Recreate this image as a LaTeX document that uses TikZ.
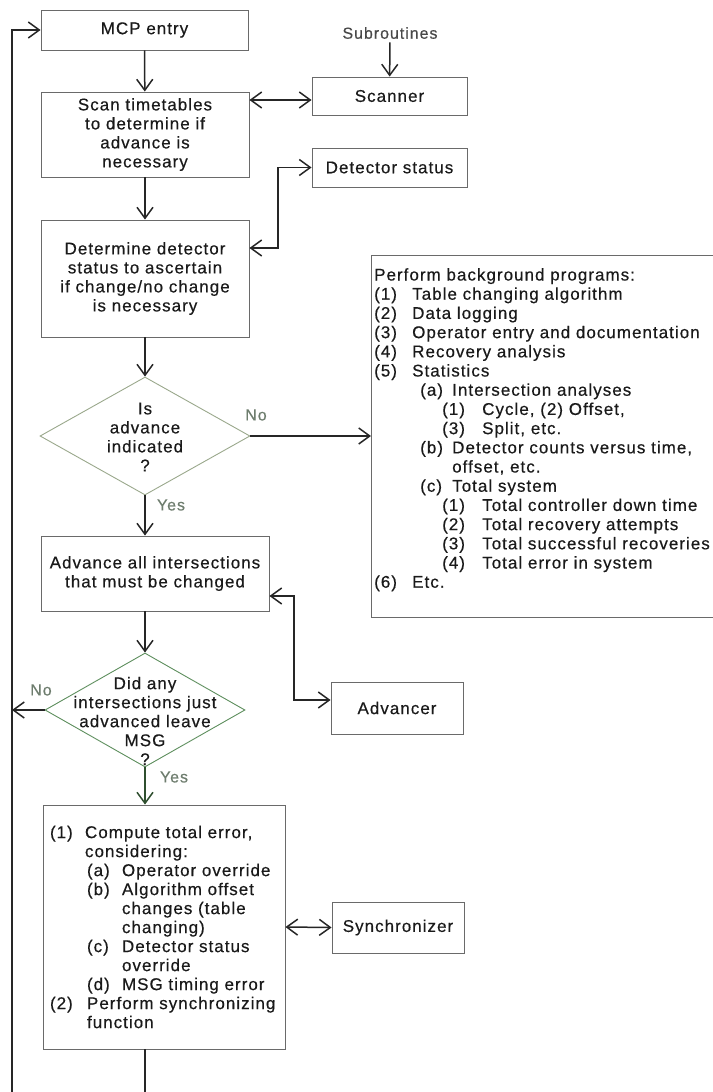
\documentclass[tikz,border=0pt]{standalone}
\usepackage{fontspec}
\setmainfont{Liberation Sans}[LetterSpace=6, FakeBold=0.4]
\usetikzlibrary{arrows.meta,shapes.geometric}
\definecolor{ink}{HTML}{1A1A1A}
\definecolor{boxline}{HTML}{6A6A6A}
\definecolor{wirec}{HTML}{262626}
\definecolor{dmdA}{HTML}{9AA88C}
\definecolor{dmdB}{HTML}{5E8F5E}
\definecolor{labc}{HTML}{6E7D6E}
\definecolor{ywire}{HTML}{2F4F2F}
\begin{document}
\begin{tikzpicture}[x=1pt,y=-1pt,
  every node/.style={font=\fontsize{17}{19}\selectfont, text=ink},
  blk/.style={draw=boxline, line width=0.9pt, inner sep=0pt, align=center},
  dmd/.style={draw=#1, diamond, line width=0.9pt, inner sep=0pt},
  wire/.style={draw=wirec, line width=1.5pt},
  tip/.style={-{Straight Barb[length=11pt,width=16pt]}},
  tips/.style={{Straight Barb[length=11pt,width=16pt]}-{Straight Barb[length=11pt,width=16pt]}},
  lbl/.style={text=labc, font=\fontsize{16}{19}\selectfont},
]
\fill[white] (0,0) rectangle (712,1092);
\useasboundingbox (0,0) rectangle (712,1092);

% main column
\node[blk, minimum width=207pt, minimum height=40pt] (mcp) at (144.5,30) {MCP entry};
\node[blk, minimum width=208pt, minimum height=85pt] (scan) at (145,134.5) {Scan timetables\\to determine if\\advance is\\necessary};
\node[blk, minimum width=208pt, minimum height=117pt] (det) at (145,278.5) {Determine detector\\status to ascertain\\if change/no change\\is necessary};
\node[dmd=dmdA, minimum width=210pt, minimum height=118pt] (d1) at (145,436) {};
\node[align=center, inner sep=0pt] (d1t) at (145,437) {Is\\advance\\indicated\\?};
\node[blk, minimum width=228pt, minimum height=75pt] (adv) at (155,573.5) {Advance all intersections\\that must be changed};
\node[dmd=dmdB, minimum width=200pt, minimum height=114pt] (d2) at (145,710) {};
\node[align=center, inner sep=0pt] (d2t) at (145,721) {Did any\\intersections just\\advanced leave\\MSG\\?};
\node[blk, minimum width=242pt, minimum height=244pt, align=left, text width=228pt, inner xsep=7pt] (comp) at (164,927) {%
\makebox[35pt][l]{(1)}Compute total error,\\
\hspace*{35pt}considering:\\
\hspace*{37pt}\makebox[35pt][l]{(a)}Operator override\\
\hspace*{37pt}\makebox[35pt][l]{(b)}Algorithm offset\\
\hspace*{72pt}changes (table\\
\hspace*{72pt}changing)\\
\hspace*{37pt}\makebox[35pt][l]{(c)}Detector status\\
\hspace*{72pt}override\\
\hspace*{37pt}\makebox[35pt][l]{(d)}MSG timing error\\
\makebox[37pt][l]{(2)}Perform synchronizing\\
\hspace*{37pt}function};

% subroutines
\node[text=ink!80, font=\fontsize{16}{19}\selectfont] (subr) at (390,33) {Subroutines};
\node[blk, minimum width=155pt, minimum height=38pt] (scanner) at (389.5,96) {Scanner};
\node[blk, minimum width=155pt, minimum height=39pt] (detst) at (389.5,167.5) {Detector status};
\node[blk, minimum width=132pt, minimum height=52pt] (advr) at (397,708) {Advancer};
\node[blk, minimum width=132pt, minimum height=51pt] (sync) at (398,927.5) {Synchronizer};

% background programs
\node[draw=boxline, line width=0.9pt, minimum width=370pt, minimum height=362pt, anchor=north west, inner sep=0pt] (bg) at (371,255) {};
\node[anchor=north west, align=left, inner sep=0pt, font=\fontsize{17}{19.2}\selectfont] (bgt) at (374,268) {%
Perform background programs:\\
\makebox[38pt][l]{(1)}Table changing algorithm\\
\makebox[38pt][l]{(2)}Data logging\\
\makebox[38pt][l]{(3)}Operator entry and documentation\\
\makebox[38pt][l]{(4)}Recovery analysis\\
\makebox[38pt][l]{(5)}Statistics\\
\hspace*{46pt}\makebox[32pt][l]{(a)}Intersection analyses\\
\hspace*{68pt}\makebox[40pt][l]{(1)}Cycle, (2) Offset,\\
\hspace*{68pt}\makebox[40pt][l]{(3)}Split, etc.\\
\hspace*{46pt}\makebox[32pt][l]{(b)}Detector counts versus time,\\
\hspace*{78pt}offset, etc.\\
\hspace*{46pt}\makebox[32pt][l]{(c)}Total system\\
\hspace*{68pt}\makebox[40pt][l]{(1)}Total controller down time\\
\hspace*{68pt}\makebox[40pt][l]{(2)}Total recovery attempts\\
\hspace*{68pt}\makebox[40pt][l]{(3)}Total successful recoveries\\
\hspace*{68pt}\makebox[40pt][l]{(4)}Total error in system\\
\makebox[38pt][l]{(6)}Etc.};

% labels
\node[lbl] (no1) at (256,415) {No};
\node[lbl] (yes1) at (171,505) {Yes};
\node[lbl] (no2) at (41,690) {No};
\node[lbl] (yes2) at (174,777) {Yes};

% helper coordinates
\coordinate (scanlvl) at (0,100);
\coordinate (detlvl) at (0,248);
\coordinate (detx) at (278,0);
\coordinate (advlvl) at (0,596);
\coordinate (advx) at (294,0);
\coordinate (advrlvl) at (0,700);
\coordinate (retx) at (12,0);
\coordinate (bot) at (0,1120);

% connectors
\draw[wire,tip] (subr) -- (scanner);
\draw[wire,tip] (mcp) -- (scan);
\draw[wire,tips] (scan.east |- scanlvl) -- (scanner.west |- scanlvl);
\draw[wire,tip] (scan) -- (det);
\draw[wire,tips] (detst.west) -- (detx |- detst.west) -- (detx |- detlvl) -- (det.east |- detlvl);
\draw[wire,tip] (det) -- (d1);
\draw[wire,tip] (d1.east) -- (d1.east -| bg.west);
\draw[wire,tip] (d1.south) -- (d1.south |- adv.north);
\draw[wire,tips] (advr.west |- advrlvl) -- (advx |- advrlvl) -- (advx |- advlvl) -- (adv.east |- advlvl);
\draw[wire,tip] (adv.south -| d2) -- (d2.north);
\draw[wire,tip] (d2.west) -- (retx |- d2.west);
\draw[wire,tip,draw=ywire] (d2.south) -- (d2.south |- comp.north);
\draw[wire,tips] (comp.east) -- (sync.west);
\draw[wire,tip] (comp.south -| d2) -- (d2 |- bot) -- (retx |- bot) -- (retx |- mcp.west) -- (mcp.west);
\end{tikzpicture}
\end{document}
